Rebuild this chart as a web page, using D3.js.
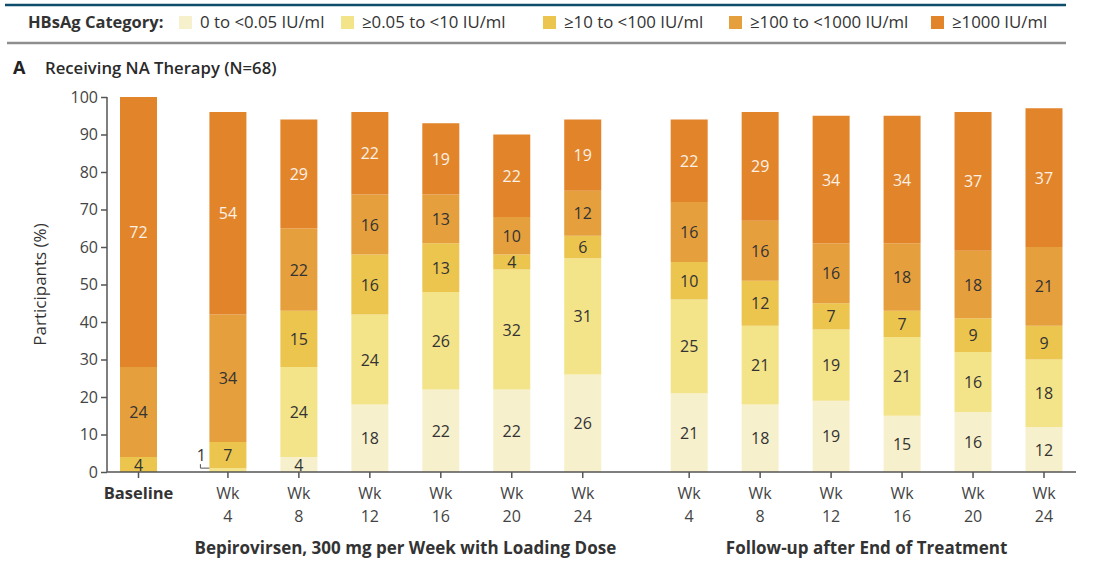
<!DOCTYPE html>
<html>
<head>
<meta charset="utf-8">
<script src="https://cdn.jsdelivr.net/npm/d3@7"></script>
<style>
  html, body { margin: 0; padding: 0; background: #fff; }
  svg { display: block; font-family: "Open Sans", "Noto Sans", sans-serif; }
</style>
</head>
<body>
<svg id="chart" width="1099" height="563"></svg>
<script>
// HBsAg categories, lowest to highest
const categories = ["0 to <0.05 IU/ml", "\u22650.05 to <10 IU/ml", "\u226510 to <100 IU/ml", "\u2265100 to <1000 IU/ml", "\u22651000 IU/ml"];
const colors = ["#f7f0cc", "#f3e389", "#ecc54e", "#e69f3d", "#e2842a"];

// Time points, grouped: baseline, treatment period, follow-up
const timepoints = ["Baseline", "Wk 4", "Wk 8", "Wk 12", "Wk 16", "Wk 20", "Wk 24", "Wk 4", "Wk 8", "Wk 12", "Wk 16", "Wk 20", "Wk 24"];
const phases = ["base", "tx", "tx", "tx", "tx", "tx", "tx", "fu", "fu", "fu", "fu", "fu", "fu"];
const phaseTitles = { tx: "Bepirovirsen, 300 mg per Week with Loading Dose", fu: "Follow-up after End of Treatment" };

// Percentage of participants per category at each time point
const cat0 = [0, 0, 4, 18, 22, 22, 26, 21, 18, 19, 15, 16, 12];
const cat1 = [0, 1, 24, 24, 26, 32, 31, 25, 21, 19, 21, 16, 18];
const cat2 = [4, 7, 15, 16, 13, 4, 6, 10, 12, 7, 7, 9, 9];
const cat3 = [24, 34, 22, 16, 13, 10, 12, 16, 16, 16, 18, 18, 21];
const cat4 = [72, 54, 29, 22, 19, 22, 19, 22, 29, 34, 34, 37, 37];

const yTicks = [0, 10, 20, 30, 40, 50, 60, 70, 80, 90, 100];

const series = [cat0, cat1, cat2, cat3, cat4];
const rows = timepoints.map((t, i) => {
  const r = { i, label: t, phase: phases[i] };
  series.forEach((s, k) => r["c" + k] = s[i]);
  return r;
});
const keys = categories.map((_, k) => "c" + k);
const stacked = d3.stack().keys(keys)(rows);

// slot positions: wider gaps between the phases
const slots = [];
let pos = 0;
phases.forEach((p, i) => {
  if (i > 0) pos += (p !== phases[i - 1]) ? (p === "tx" ? 1.26 : 1.5) : 1;
  slots.push(pos);
});

const svg = d3.select("#chart");
const y = d3.scaleLinear().domain([0, 100]).range([472, 97]);
const x = d3.scaleLinear().domain([0, slots[slots.length - 1]]).range([138.5, 1044]);
const barW = 37;
const axisX = 107;
const ink = "#333";

// header rules
svg.append("line").attr("x1", 5).attr("x2", 1066).attr("y1", 5).attr("y2", 5)
  .attr("stroke", "#0d4c6b").attr("stroke-width", 2.5);
svg.append("line").attr("x1", 7).attr("x2", 1066).attr("y1", 43).attr("y2", 43)
  .attr("stroke", "#8e8e8e").attr("stroke-width", 2.5);

// legend
const legend = svg.append("g").attr("fill", ink);
legend.append("text").attr("x", 28).attr("y", 28).attr("font-size", 16.5).attr("font-weight", 700)
  .text("HBsAg Category:");
const legX = [179, 341, 543, 729, 931];
categories.forEach((c, k) => {
  legend.append("rect").attr("x", legX[k]).attr("y", 16).attr("width", 13).attr("height", 13).attr("fill", colors[k]);
  legend.append("text").attr("x", legX[k] + 21).attr("y", 28).attr("font-size", 16.8).text(c);
});

// panel title
svg.append("text").attr("x", 13).attr("y", 74).attr("font-size", 18).attr("font-weight", 700).attr("fill", "#222").text("A");
svg.append("text").attr("x", 45).attr("y", 74).attr("font-size", 16.7).attr("font-weight", 600).attr("fill", "#2a2a2a")
  .text("Receiving NA Therapy (N=68)");

// bars
const layer = svg.append("g").selectAll("g").data(stacked).join("g").attr("fill", (d, k) => colors[k]);
layer.selectAll("rect").data(d => d).join("rect")
  .attr("x", d => x(slots[d.data.i]) - barW / 2)
  .attr("width", barW)
  .attr("y", d => y(d[1]))
  .attr("height", d => y(d[0]) - y(d[1]));

// segment labels
const lab = svg.append("g").attr("font-size", 16).attr("text-anchor", "middle");
stacked.forEach((s, k) => {
  s.forEach(d => {
    const v = d[1] - d[0];
    if (v < 2) return;
    lab.append("text")
      .attr("x", x(slots[d.data.i]))
      .attr("y", y((d[0] + d[1]) / 2) + 6)
      .attr("fill", k === 4 ? "#fcf1e4" : ink)
      .text(v);
  });
});

// call-out for thin segments
stacked.forEach((s, k) => {
  s.forEach(d => {
    const v = d[1] - d[0];
    if (v <= 0 || v >= 2) return;
    const cx = x(slots[d.data.i]) - barW / 2;
    const cy = y((d[0] + d[1]) / 2);
    lab.append("text").attr("x", cx - 8).attr("y", cy - 9).attr("fill", ink).text(v);
    svg.append("path")
      .attr("d", `M${cx - 9},${cy - 6}V${cy - 2}H${cx}`)
      .attr("fill", "none").attr("stroke", "#555").attr("stroke-width", 1);
  });
});

// y axis
const yAxis = svg.append("g").attr("transform", `translate(${axisX},0)`)
  .call(d3.axisLeft(y).tickValues(yTicks).tickSize(6).tickPadding(3));
yAxis.select(".domain").attr("stroke", "#555").attr("stroke-width", 1.5).attr("d", `M0,${y(100)}V${y(0)}`);
yAxis.selectAll(".tick line").attr("stroke", "#555").attr("stroke-width", 1.5);
yAxis.selectAll(".tick text").attr("font-size", 16).attr("fill", "#444").attr("font-family", "Open Sans, sans-serif");

svg.append("text")
  .attr("transform", `translate(46,${(y(0) + y(100)) / 2}) rotate(-90)`)
  .attr("text-anchor", "middle").attr("font-size", 17).attr("font-weight", 500).attr("fill", ink)
  .text("Participants (%)");

// x axis
svg.append("line").attr("x1", axisX).attr("x2", 1076).attr("y1", y(0)).attr("y2", y(0))
  .attr("stroke", "#555").attr("stroke-width", 1.5);
const xt = svg.append("g").attr("font-size", 16).attr("fill", "#444").attr("text-anchor", "middle");
rows.forEach(r => {
  const cx = x(slots[r.i]);
  svg.append("line").attr("x1", cx).attr("x2", cx).attr("y1", y(0)).attr("y2", y(0) + 6)
    .attr("stroke", "#555").attr("stroke-width", 1.5);
  if (r.phase === "base") {
    xt.append("text").attr("x", cx).attr("y", 499).attr("font-size", 16.5).attr("font-weight", 700).attr("fill", ink).text(r.label);
  } else {
    const parts = r.label.split(" ");
    xt.append("text").attr("x", cx).attr("y", 499).text(parts[0]);
    xt.append("text").attr("x", cx).attr("y", 522).text(parts[1]);
  }
});

// phase titles
["tx", "fu"].forEach(p => {
  const idx = rows.filter(r => r.phase === p).map(r => slots[r.i]);
  const mid = (x(d3.min(idx)) + x(d3.max(idx))) / 2;
  svg.append("text").attr("x", mid).attr("y", 554)
    .attr("text-anchor", "middle").attr("font-size", 17).attr("font-weight", 700).attr("fill", ink)
    .text(phaseTitles[p]);
});
</script>
</body>
</html>
